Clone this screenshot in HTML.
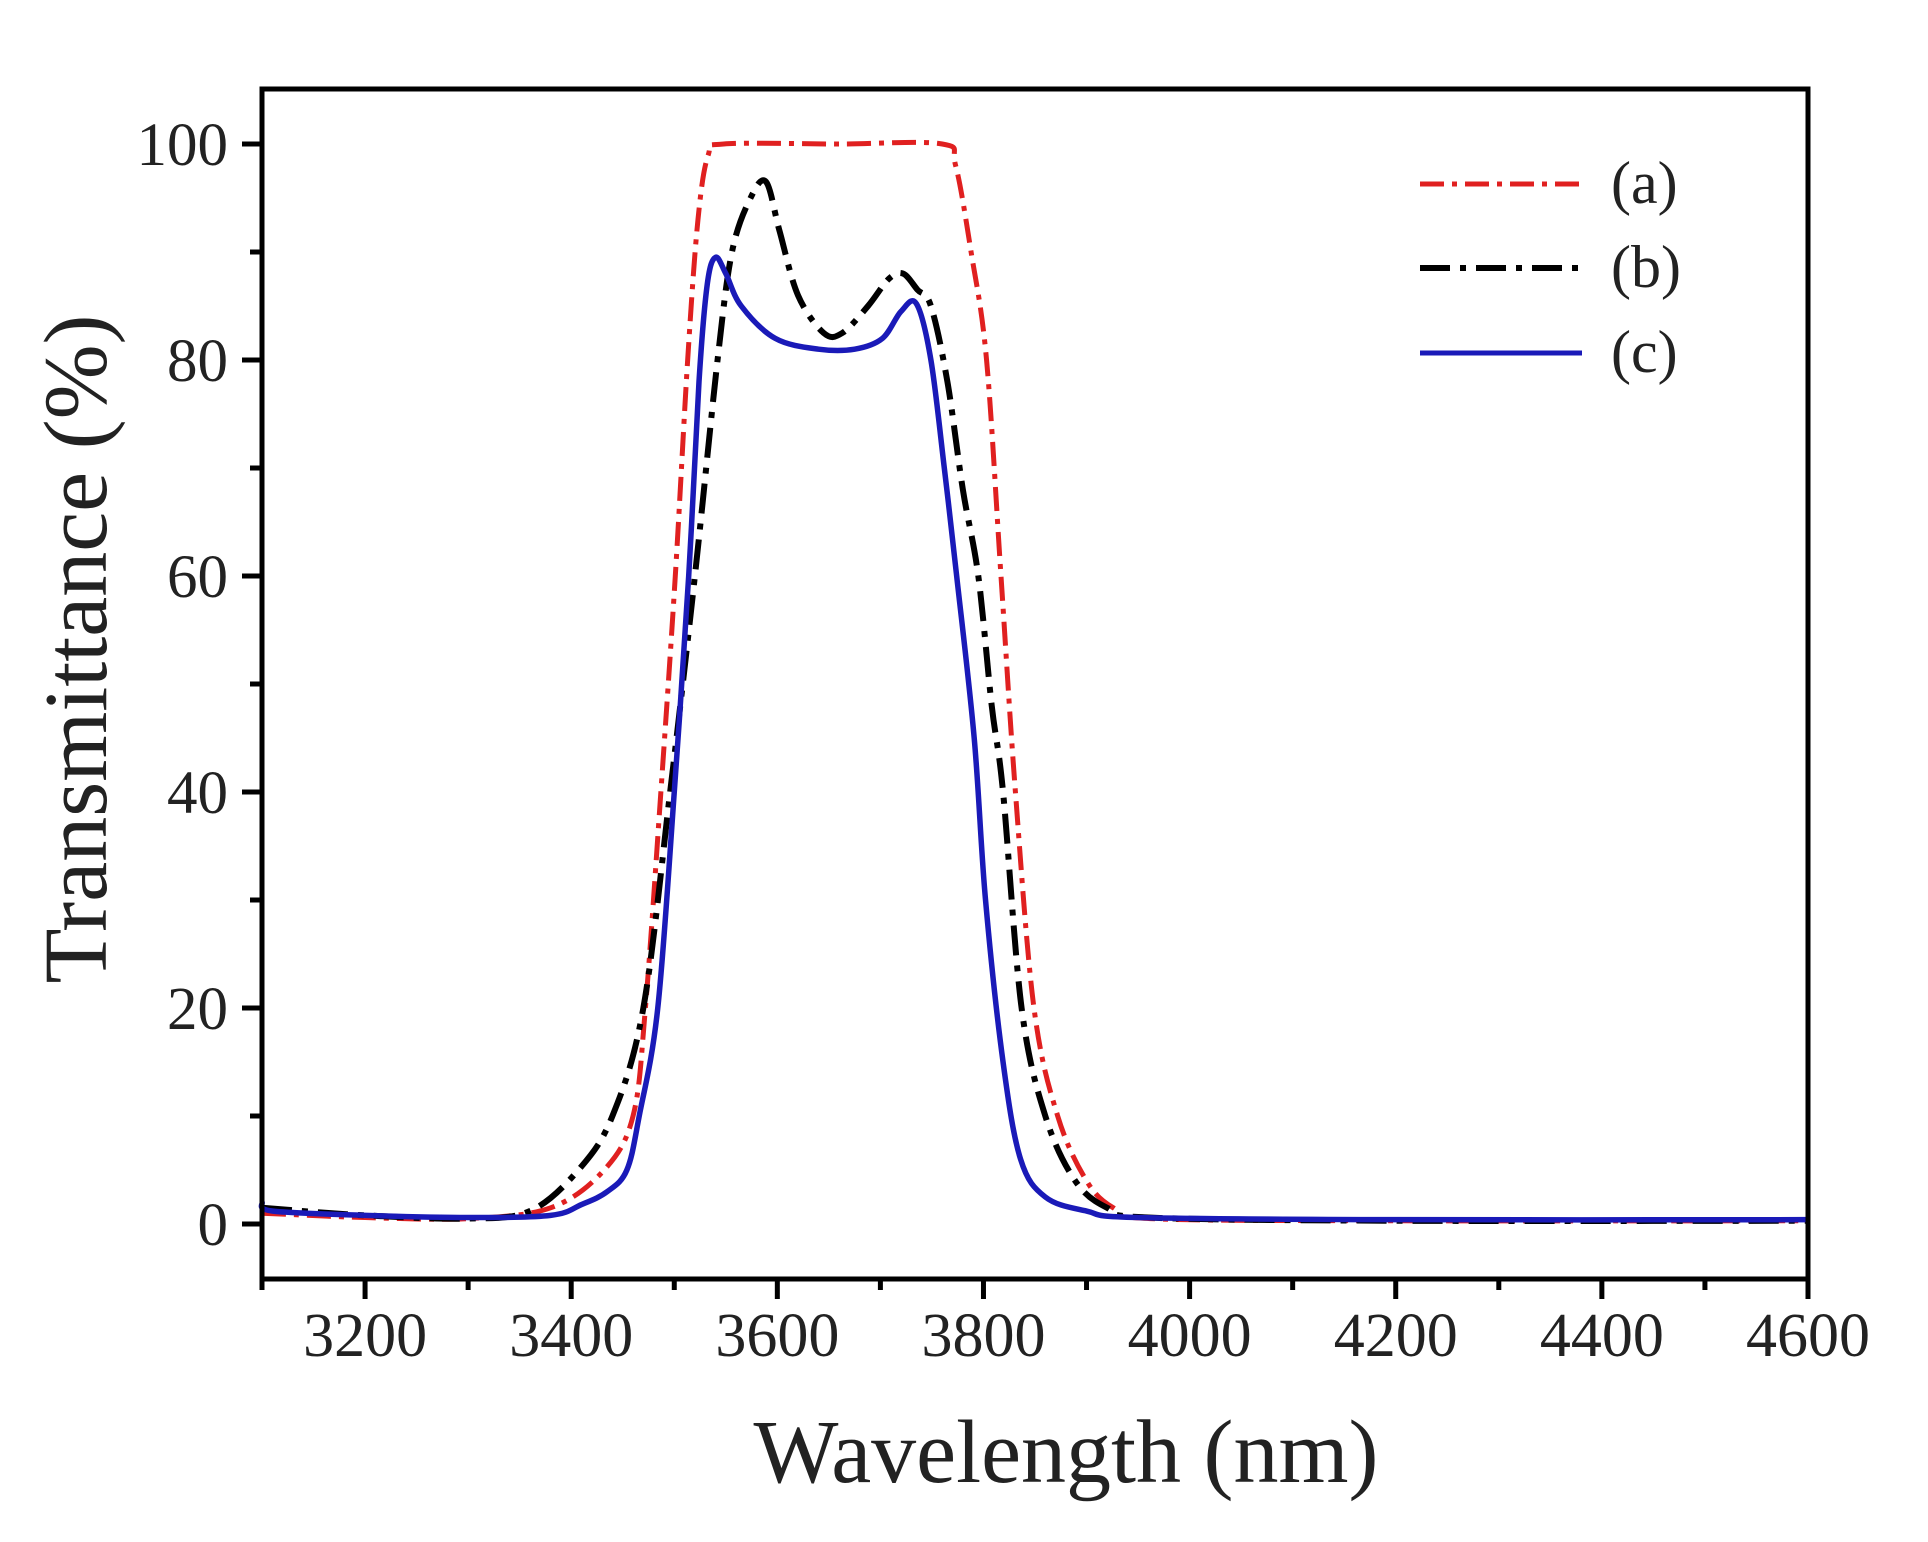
<!DOCTYPE html>
<html><head><meta charset="utf-8"><style>
html,body{margin:0;padding:0;background:#fff;}
svg{display:block;}
text{font-family:"Liberation Serif",serif;fill:#222;}
</style></head><body>
<svg id="s" width="1928" height="1542" viewBox="0 0 1928 1542" xmlns="http://www.w3.org/2000/svg">
<rect x="0" y="0" width="1928" height="1542" fill="#fff"/>
<g id="curves"></g>
<rect x="262" y="89" width="1546" height="1190" fill="none" stroke="#000" stroke-width="5"/>
<g id="ticks" stroke="#000" stroke-width="5"></g>
<g font-size="61" text-anchor="end" id="ylab"></g>
<g font-size="62" text-anchor="middle" id="xlab"></g>
<text x="1066" y="1482" font-size="90" text-anchor="middle">Wavelength (nm)</text>
<text transform="translate(106,649) rotate(-90)" font-size="90" text-anchor="middle">Transmittance (%)</text>
<line x1="1420" y1="184" x2="1582" y2="184" stroke="#e02020" stroke-width="5" stroke-dasharray="24,8,5,8"/>
<line x1="1420" y1="268" x2="1582" y2="268" stroke="#000" stroke-width="6" stroke-dasharray="30,10,6,10"/>
<line x1="1420" y1="353" x2="1582" y2="353" stroke="#1a1ab8" stroke-width="5"/>
<text x="1611" y="203" font-size="60">(a)</text>
<text x="1611" y="287" font-size="60">(b)</text>
<text x="1611" y="372" font-size="60">(c)</text>
</svg>
<script>
var NS="http://www.w3.org/2000/svg";
function X(n){return 262+(n-3100)*1546/1500;}
function Y(v){return 1224-v*10.8;}
var t=document.getElementById('ticks'),yl=document.getElementById('ylab'),xl=document.getElementById('xlab');
function ln(x1,y1,x2,y2){var l=document.createElementNS(NS,'line');l.setAttribute('x1',x1);l.setAttribute('y1',y1);l.setAttribute('x2',x2);l.setAttribute('y2',y2);t.appendChild(l);}
for(var v=0;v<=100;v+=10){var y=Y(v);if(v%20==0){ln(262,y,242,y);var tx=document.createElementNS(NS,'text');tx.setAttribute('x',228);tx.setAttribute('y',y+21);tx.textContent=v;yl.appendChild(tx);}else ln(262,y,250,y);}
for(var n=3100;n<=4600;n+=100){var x=X(n);if(n%200==0){ln(x,1279,x,1299);var tx=document.createElementNS(NS,'text');tx.setAttribute('x',x);tx.setAttribute('y',1356);tx.textContent=n;xl.appendChild(tx);}else ln(x,1279,x,1290);}
function path(pts){var P=pts.map(function(p){return [X(p[0]),Y(p[1])];});var d="M"+P[0][0]+","+P[0][1];
for(var i=0;i<P.length-1;i++){var p0=P[Math.max(0,i-1)],p1=P[i],p2=P[i+1],p3=P[Math.min(P.length-1,i+2)];
var c1=[p1[0]+(p2[0]-p0[0])/6,p1[1]+(p2[1]-p0[1])/6],c2=[p2[0]-(p3[0]-p1[0])/6,p2[1]-(p3[1]-p1[1])/6];
d+="C"+c1+" "+c2+" "+p2;}return d;}
var A=[[3100,1],[3200,0.6],[3300,0.5],[3380,1.5],[3432,5],[3460,10],[3472,20],[3487,40],[3501,60],[3513,80],[3523,93],[3533,99],[3548,100],[3660,100],[3760,100],[3773,98],[3788,90],[3803,80],[3817,60],[3831,40],[3849,20],[3872,10],[3900,4],[3926,1.5],[3962,0.5],[4200,0.3],[4600,0.3]];
var B=[[3100,1.5],[3200,0.8],[3300,0.5],[3360,1.2],[3407,5],[3440,10],[3470,20],[3496,40],[3520,60],[3542,80],[3556,90],[3574,95],[3589,96.5],[3602,92],[3620,86],[3645,82.5],[3663,82.5],[3688,85],[3708,87.5],[3722,88],[3736,86.5],[3749,85],[3765,78],[3780,68],[3795,60],[3808,48],[3819,40],[3837,20],[3860,10],[3889,4],[3920,1.5],[3960,0.6],[4200,0.3],[4600,0.3]];
var C=[[3100,2],[3110,1.2],[3200,0.8],[3300,0.6],[3380,0.8],[3410,1.8],[3435,3],[3454,5],[3466,10],[3484,20],[3500,40],[3514,60],[3524,78],[3532,87],[3540,89.5],[3550,88],[3565,85],[3598,82],[3640,81],[3675,81],[3702,82],[3720,84.5],[3735,85.2],[3749,80],[3762,70],[3774,60],[3791,45],[3802,30],[3819,15],[3836,6],[3860,2.5],[3900,1.2],[3950,0.6],[4200,0.4],[4600,0.4]];
var g=document.getElementById('curves');
function add(pts,col,w,dash){var p=document.createElementNS(NS,'path');p.setAttribute('d',path(pts));p.setAttribute('fill','none');p.setAttribute('stroke',col);p.setAttribute('stroke-width',w);if(dash)p.setAttribute('stroke-dasharray',dash);g.appendChild(p);}
add(A,'#e02020',5,'24,8,5,8');
add(B,'#000',6,'30,10,6,10');
add(C,'#1a1ab8',5.5,null);
</script>
</body></html>
